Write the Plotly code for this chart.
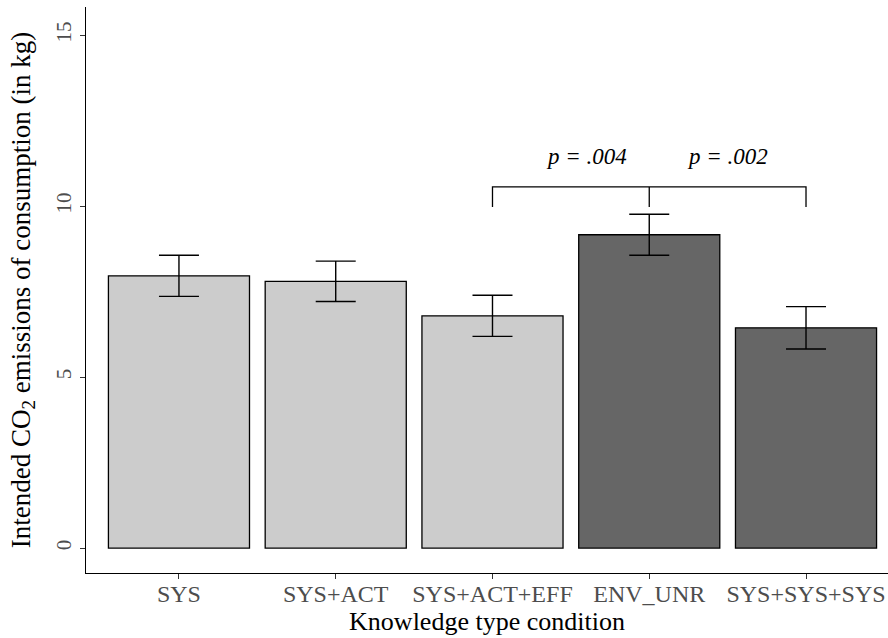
import plotly.graph_objects as go

categories = ["SYS", "SYS+ACT", "SYS+ACT+EFF", "ENV_UNR", "SYS+SYS+SYS"]
means = [7.96, 7.80, 6.79, 9.16, 6.44]
se = [0.60, 0.59, 0.60, 0.60, 0.62]
groups = ["light", "light", "light", "dark", "dark"]
group_colors = {"light": "#CCCCCC", "dark": "#666666"}

bracket_cats = ["SYS+ACT+EFF", "ENV_UNR", "SYS+SYS+SYS"]
bracket_y = 10.56
bracket_tick = 9.97
p_labels = ["p = .004", "p = .002"]
p_x = [2.6, 3.5]
p_y = 11.44

FONT = "Liberation Serif, serif"

fig = go.Figure()
fig.add_trace(go.Bar(
    x=categories, y=means,
    marker=dict(color=[group_colors[g] for g in groups],
                line=dict(color="#000000", width=1.3)),
    width=0.9,
    error_y=dict(type="data", array=se, visible=True, color="#000000",
                 thickness=1.4, width=20),
    showlegend=False, hoverinfo="skip",
))

# significance bracket
bx = [bracket_cats[0], bracket_cats[0], bracket_cats[2], bracket_cats[2], None,
      bracket_cats[1], bracket_cats[1]]
by = [bracket_tick, bracket_y, bracket_y, bracket_tick, None,
      bracket_y, bracket_tick]
fig.add_trace(go.Scatter(x=bx, y=by, mode="lines",
                         line=dict(color="#000000", width=1.3),
                         showlegend=False, hoverinfo="skip", connectgaps=False))

for t, xx in zip(p_labels, p_x):
    fig.add_annotation(x=xx, y=p_y, xref="x", yref="y", text="<i>" + t + "</i>",
                       showarrow=False, font=dict(family=FONT, size=23, color="#000000"))

fig.update_layout(
    width=888, height=638,
    margin=dict(l=86, r=0, t=7, b=65),
    plot_bgcolor="white", paper_bgcolor="white",
    font=dict(family=FONT, color="#000000"),
)
fig.update_xaxes(
    range=[-0.593, 4.523],
    showline=True, linecolor="#000000", linewidth=1.3,
    ticks="outside", ticklen=5, tickcolor="#333333",
    ticklabelstandoff=-6,
    tickfont=dict(family=FONT, size=24, color="#4D4D4D"),
    title=dict(text="Knowledge type condition",
               font=dict(family=FONT, size=26, color="#000000"), standoff=4),
    showgrid=False, zeroline=False,
)
fig.update_yaxes(
    range=[-0.73, 15.82],
    tickvals=[0, 5, 10, 15],
    showline=True, linecolor="#000000", linewidth=1.3,
    ticks="outside", ticklen=5, tickcolor="#333333",
    tickangle=-90,
    tickfont=dict(family=FONT, size=21, color="#4D4D4D"),
    title=dict(text="Intended CO<sub>2</sub> emissions of consumption (in kg)",
               font=dict(family=FONT, size=27, color="#000000"), standoff=14),
    showgrid=False, zeroline=False,
)

fig.write_html("out.html",
               config={"displayModeBar": False},
               post_script="document.body.style.margin='0';document.body.style.overflow='hidden';")
